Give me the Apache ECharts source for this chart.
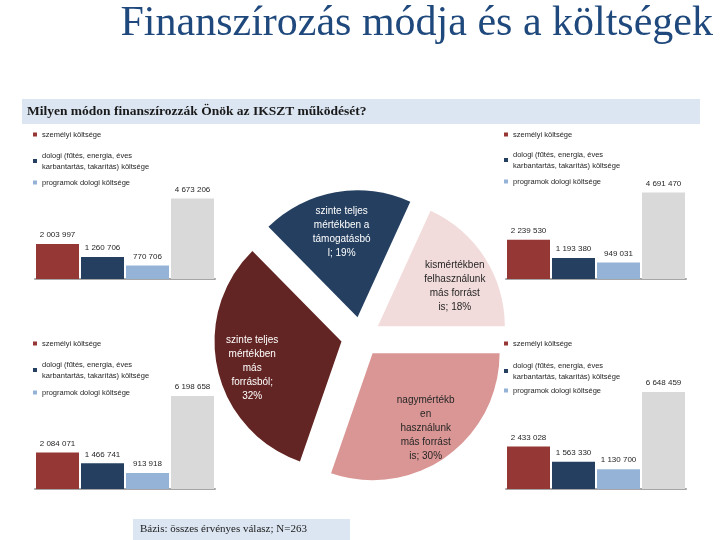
<!DOCTYPE html>
<html><head><meta charset="utf-8">
<script src="https://cdn.jsdelivr.net/npm/echarts@6/dist/echarts.min.js"></script>
<style>html,body{margin:0;padding:0;background:#fff}#c{width:720px;height:540px}</style>
</head><body><div id="c"></div>
<script>
// ---- data ----
const mainTitle = 'Finanszírozás módja és a költségek';
const question = 'Milyen módon finanszírozzák Önök az IKSZT működését?';
const baseNote = 'Bázis: összes érvényes válasz; N=263';

const pieNames = ['nagymértékben használunk más forrást is', 'szinte teljes mértékben más forrásból', 'szinte teljes mértékben a támogatásból', 'kismértékben felhasználunk más forrást is'];
const pieLabelLines = ['nagymértékb\nen\nhasználunk\nmás forrást\nis', 'szinte teljes\nmértékben\nmás\nforrásból', 'szinte teljes\nmértékben a\ntámogatásbó\nl', 'kismértékben\nfelhasználunk\nmás forrást\nis'];
const pieLabelSeps = ['; ', ';\n', '; ', '; '];
const pieValues = [30, 32, 19, 18];

const costCategories = ['személyi költsége', 'dologi (fűtés, energia, éves karbantartás, takarítás) költsége', 'programok dologi költsége'];
const totalName = 'összesen';

const tlValues = [2003997, 1260706, 770706];  const tlTotal = 4673206;
const trValues = [2239530, 1193380, 949031];  const trTotal = 4691470;
const blValues = [2084071, 1466741, 913918];  const blTotal = 6198658;
const brValues = [2433028, 1563330, 1130700]; const brTotal = 6648459;

// ---- styles ----
const pieColors = ['#D99694', '#632523', '#243F60', '#F2DCDB'];
const pieLabelColors = ['#262626', '#ffffff', '#ffffff', '#262626'];
const pieLabelShiftY = [0, 7, 5, 10];
const barColors = ['#953735', '#243F60', '#95B3D7'];
const totalColor = '#D9D9D9';

function fmt(v) { return String(v).replace(/\B(?=(\d{3})+(?!\d))/g, ' '); }

const panels = [
  { values: tlValues, total: tlTotal, left: 35, top: 174, totalMax: 6100000, legendLeft: 33, legendTops: [129, 150, 177] },
  { values: trValues, total: trTotal, left: 506, top: 174, totalMax: 5700000, legendLeft: 504, legendTops: [129, 149, 176] },
  { values: blValues, total: blTotal, left: 35, top: 384, totalMax: 7000000, legendLeft: 33, legendTops: [338, 359, 387] },
  { values: brValues, total: brTotal, left: 506, top: 384, totalMax: 7200000, legendLeft: 504, legendTops: [338, 360, 385] }
];

const grid = [], xAxis = [], yAxis = [], series = [], legend = [];
const cats = costCategories.concat([totalName]);
const lbl = { show: true, position: 'top', distance: 5, fontSize: 8, color: '#262626', fontFamily: 'Liberation Sans', formatter: p => fmt(p.value) };

panels.forEach((p, gi) => {
  grid.push({ left: p.left, top: p.top, width: 180, height: 105 });
  xAxis.push({ type: 'category', gridIndex: gi, data: cats, axisLabel: { show: false }, axisTick: { show: false },
    axisLine: { lineStyle: { color: '#A6A6A6', width: 2 } } });
  yAxis.push({ type: 'value', gridIndex: gi, min: 0, max: 6000000, show: false, splitLine: { show: false } });
  yAxis.push({ type: 'value', gridIndex: gi, min: 0, max: p.totalMax, show: false, splitLine: { show: false } });
  costCategories.forEach((name, i) => {
    const d = ['-', '-', '-', '-']; d[i] = p.values[i];
    series.push({ type: 'bar', name: name, xAxisIndex: gi, yAxisIndex: gi * 2, data: d, barWidth: 43, barGap: '-100%',
      itemStyle: { color: barColors[i] }, label: lbl });
  });
  series.push({ type: 'bar', name: totalName, xAxisIndex: gi, yAxisIndex: gi * 2 + 1, data: ['-', '-', '-', p.total], barWidth: 43, barGap: '-100%',
    itemStyle: { color: totalColor }, label: lbl });
  costCategories.forEach((name, i) => {
    legend.push({ data: [{ name: name, icon: 'rect', itemStyle: { color: barColors[i] } }], left: p.legendLeft, top: p.legendTops[i], orient: 'vertical',
      itemWidth: 4, itemHeight: 4, padding: 0, selectedMode: false,
      textStyle: { fontSize: 7.5, color: '#262626', fontFamily: 'Liberation Sans', lineHeight: 11 },
      formatter: n => n === costCategories[1] ? 'dologi (fűtés, energia, éves\nkarbantartás, takarítás) költsége' : n });
  });
});

const pieData = pieNames.map((n, i) => ({ name: n, value: pieValues[i], selected: true, itemStyle: { color: pieColors[i] } }));
const pieLabelData = pieNames.map((n, i) => ({ name: n, value: pieValues[i], selected: true,
  itemStyle: { color: 'rgba(0,0,0,0)' }, label: { color: pieLabelColors[i] } }));

const pieCenter = [361, 337];
series.push({ type: 'pie', center: pieCenter, radius: 127, startAngle: 0, clockwise: true, selectedMode: 'multiple', selectedOffset: 20,
  avoidLabelOverlap: false, label: { show: false }, labelLine: { show: false }, emphasis: { disabled: true }, silent: true, data: pieData });
series.push({ type: 'pie', center: pieCenter, radius: [50, 127], startAngle: 0, clockwise: true, selectedMode: 'multiple', selectedOffset: 20,
  avoidLabelOverlap: false, silent: true, emphasis: { disabled: true }, labelLine: { show: false },
  label: { show: true, position: 'inside', fontSize: 10, lineHeight: 14, fontFamily: 'Liberation Sans', align: 'center',
    formatter: p => pieLabelLines[p.dataIndex] + pieLabelSeps[p.dataIndex] + p.value + '%' },
  labelLayout: params => ({ dy: pieLabelShiftY[params.dataIndex] }),
  data: pieLabelData });

const chart = echarts.init(document.getElementById('c'), null, { renderer: 'canvas' });
chart.setOption({
  animation: false,
  backgroundColor: '#ffffff',
  title: [
    { text: mainTitle, right: 7, top: 3, padding: 0, textStyle: { fontFamily: 'Liberation Serif', fontWeight: 'normal', fontSize: 42, color: '#1F497D' } },
    { text: question, left: 27, top: 105, padding: 0, textStyle: { fontFamily: 'Liberation Serif', fontWeight: 'bold', fontSize: 13.5, color: '#1a1a1a' } },
    { text: baseNote, left: 140, top: 524, padding: 0, textStyle: { fontFamily: 'Liberation Serif', fontWeight: 'normal', fontSize: 11, color: '#1a1a1a' } }
  ],
  graphic: [
    { type: 'rect', shape: { x: 22, y: 99, width: 678, height: 25 }, style: { fill: '#DCE6F2' }, z: -1 },
    { type: 'rect', shape: { x: 133, y: 519, width: 217, height: 21 }, style: { fill: '#DCE6F2' }, z: -1 }
  ],
  legend: legend,
  grid: grid, xAxis: xAxis, yAxis: yAxis, series: series
});
</script></body></html>
